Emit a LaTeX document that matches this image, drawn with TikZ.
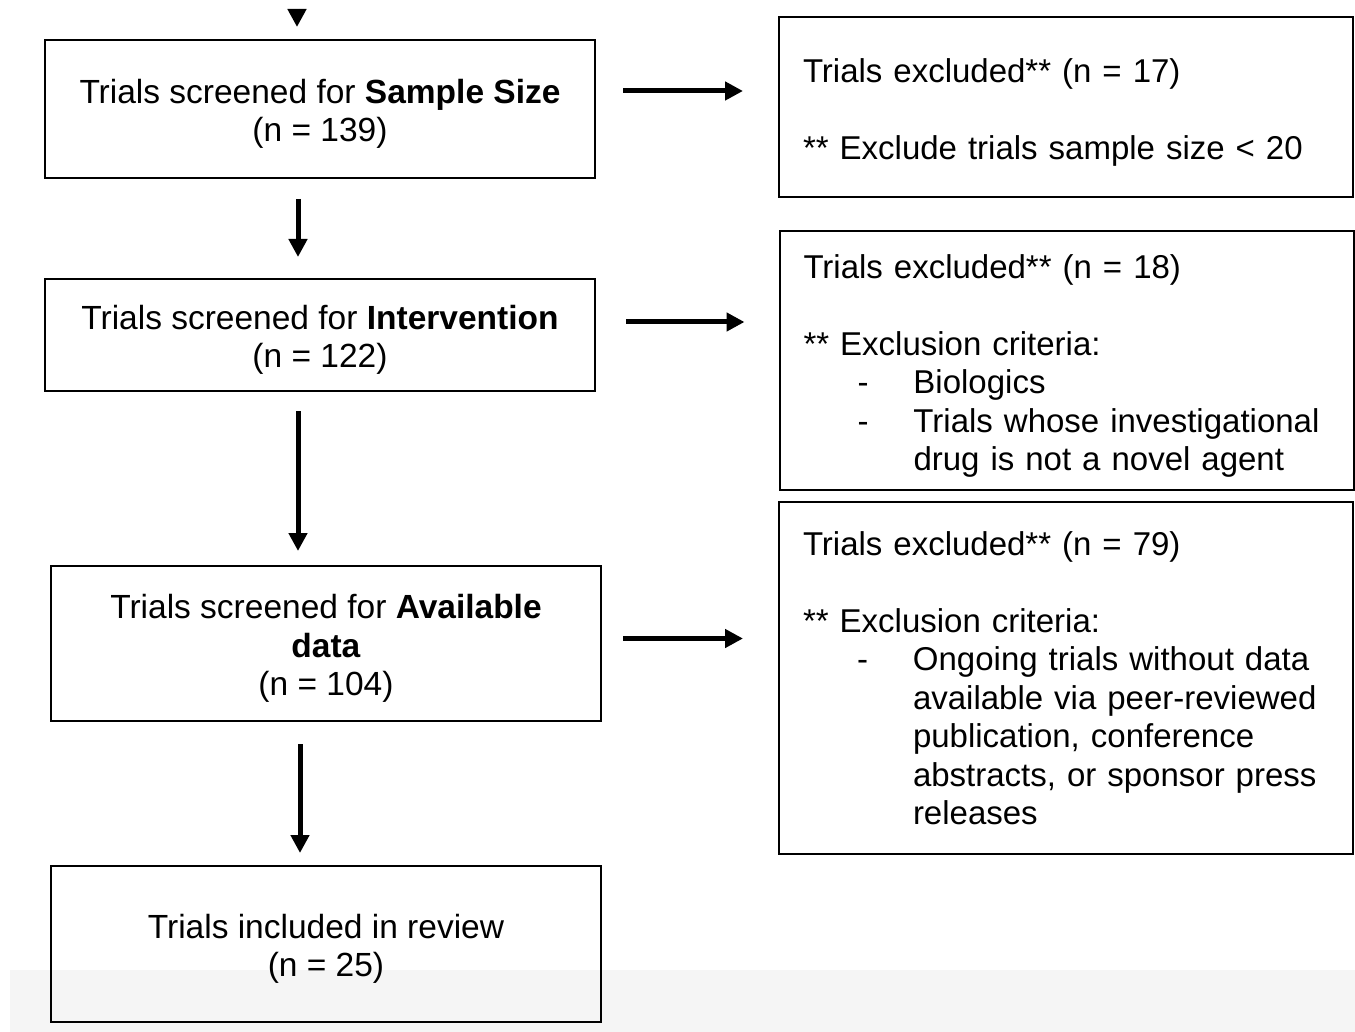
\documentclass[tikz,border=0pt]{standalone}
\usepackage{fontspec}
\setmainfont{Liberation Sans}
\usetikzlibrary{arrows.meta}
\newcommand{\critem}[1]{\makebox[55pt][l]{\hspace{27pt}-}#1}
\newcommand{\crcont}[1]{\makebox[55pt][l]{}#1}
\newcommand{\toplift}{\rule{0pt}{17.2pt}}
\begin{document}
\begin{tikzpicture}[x=0.5pt,y=-0.5pt,
  stagebox/.style={draw,line width=1pt,minimum width=275pt,align=center,
    font=\fontsize{16.75}{19.25}\selectfont},
  excludebox/.style={draw,line width=1pt,text width=263pt,inner xsep=12pt,
    align=left,font=\fontsize{16.5}{19.25}\selectfont},
  arr/.style={line width=2.5pt,-{Triangle[length=9pt,width=9pt]}}]
\useasboundingbox (0,0) rectangle (1355,1032);
% grey band at the foot of the screenshot
\fill[black!4] (10,970) rectangle (1355,1032);
% stages
\node[stagebox,minimum height=69pt] (sample) at (320,109)
  {\toplift Trials screened for \textbf{Sample Size}\\(n = 139)};
\node[stagebox,minimum height=56pt] (interv) at (320,335)
  {\toplift Trials screened for \textbf{Intervention}\\(n = 122)};
\node[stagebox,minimum height=77.5pt] (avail) at (326,643.5)
  {\toplift Trials screened for \textbf{Available}\\\textbf{data}\\(n = 104)};
\node[stagebox,minimum height=78pt] (incl) at (326,944)
  {\toplift Trials included in review\\(n = 25)};
% exclusions
\node[excludebox,minimum height=90pt] (excl1) at (1066,107)
  {\toplift Trials excluded** (n = 17)\\[19.25pt]
   ** Exclude trials sample size < 20};
\node[excludebox,minimum height=129.5pt] (excl2) at (1066.5,360.5)
  {\toplift Trials excluded** (n = 18)\\[19.25pt]
   ** Exclusion criteria:\\
   \critem{Biologics}\\
   \critem{Trials whose investigational}\\
   \crcont{drug is not a novel agent}};
\node[excludebox,minimum height=176pt] (excl3) at (1066,678)
  {Trials excluded** (n = 79)\\[19.25pt]
   ** Exclusion criteria:\\
   \critem{Ongoing trials without data}\\
   \crcont{available via peer-reviewed}\\
   \crcont{publication, conference}\\
   \crcont{abstracts, or sponsor press}\\
   \crcont{releases}};
% arrows down
\coordinate (top) at (297,9);
\draw[arr,shorten >=6pt] (top) -- ([xshift=-11.5pt]sample.north);
\draw[arr,shorten <=10pt,shorten >=10.5pt] ([xshift=-11pt]sample.south) -- ([xshift=-11pt]interv.north);
\draw[arr,shorten <=9.5pt,shorten >=7pt] ([xshift=-11pt]interv.south) -- ([xshift=-11pt]interv.south |- avail.north);
\draw[arr,shorten <=11pt,shorten >=6pt] ([xshift=-13pt]avail.south) -- ([xshift=-13pt]incl.north);
% arrows right
\coordinate (h1) at ([yshift=9pt]sample.east);
\coordinate (h2) at ([yshift=6.5pt]interv.east);
\coordinate (h3) at ([yshift=2.5pt]avail.east);
\draw[arr,shorten <=13.5pt,shorten >=17.5pt] (h1) -- (h1 -| excl1.west);
\draw[arr,shorten <=15pt,shorten >=17pt] (h2) -- (h2 -| excl2.west);
\draw[arr,shorten <=10.5pt,shorten >=17.5pt] (h3) -- (h3 -| excl3.west);
\end{tikzpicture}
\end{document}
